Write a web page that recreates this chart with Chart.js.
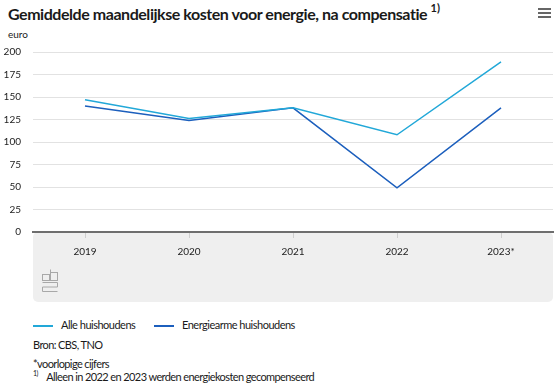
<!DOCTYPE html>
<html>
<head>
<meta charset="utf-8">
<script src="https://cdn.jsdelivr.net/npm/chart.js@4"></script>
<style>
  body { margin: 0; background: #fff; font-family: "Lato", sans-serif; color: #1a1a1a; }
  #wrap { position: relative; width: 559px; height: 389px; overflow: hidden; }
  #title { position: absolute; left: 8px; top: 3px; font-size: 16px; font-weight: 700; letter-spacing: -0.45px; }
  #title sup { font-size: 11px; position: relative; top: -2px; letter-spacing: 0; }
  #menu { position: absolute; left: 538px; top: 8px; width: 13px; }
  #menu div { height: 2px; background: #666; margin-bottom: 2px; }
  #unit { position: absolute; left: 8px; top: 28px; font-size: 10px; }
  #box { position: absolute; left: 0; top: 28px; width: 559px; height: 276px; }
  .leg { position: absolute; top: 318px; font-size: 11px; letter-spacing: -0.5px; }
  .leg span { display: inline-block; width: 20px; height: 2px; vertical-align: middle; margin-right: 8px; }
  .note { position: absolute; left: 33px; font-size: 11px; letter-spacing: -0.6px; }
</style>
</head>
<body>
<div id="wrap">
  <div id="title">Gemiddelde maandelijkse kosten voor energie, na compensatie <sup>1)</sup></div>
  <div id="menu"><div></div><div></div><div></div></div>
  <div id="unit">euro</div>
  <div id="box"><canvas id="chart"></canvas></div>
  <div class="leg" style="left:33px"><span style="background:#22a8d8"></span>Alle huishoudens</div>
  <div class="leg" style="left:154px"><span style="background:#1c5fbd"></span>Energiearme huishoudens</div>
  <div class="note" style="top:338px">Bron: CBS, TNO</div>
  <div class="note" style="top:357px">*voorlopige cijfers</div>
  <div class="note" style="top:369px"><sup style="font-size:7px">1)</sup>&nbsp;&nbsp;&nbsp; Alleen in 2022 en 2023 werden energiekosten gecompenseerd</div>
</div>
<script>
const years = ['2019', '2020', '2021', '2022', '2023*'];
const alleHuishoudens = [147, 126, 138, 108, 189];
const energiearmeHuishoudens = [140, 124, 138, 49, 138];

// grey band under the x axis plus a rough CBS logo
const bandPlugin = {
    id: 'band',
    beforeDraw(chart) {
        const { ctx, chartArea } = chart;
        const top = chartArea.bottom;
        const bottom = chart.height - 2;
        ctx.save();
        ctx.fillStyle = '#efefef';
        ctx.beginPath();
        ctx.roundRect(chartArea.left, top, chartArea.right - chartArea.left, bottom - top, 5);
        ctx.fill();
        // logo
        const x = chartArea.left + 9, y = top + 37;
        ctx.strokeStyle = '#a8a8a8';
        ctx.lineWidth = 1;
        ctx.strokeRect(x + 0.5, y + 5.5, 7, 6);
        ctx.strokeRect(x + 8.5, y + 3.5, 7, 8);
        ctx.beginPath();
        ctx.moveTo(x + 8.5, y + 0.5); ctx.lineTo(x + 8.5, y + 3.5);
        ctx.moveTo(x + 0.5, y + 13.5); ctx.lineTo(x + 15.5, y + 13.5);
        ctx.lineTo(x + 15.5, y + 18); ctx.lineTo(x + 0.5, y + 18);
        ctx.lineTo(x + 0.5, y + 22.5); ctx.lineTo(x + 15.5, y + 22.5);
        ctx.stroke();
        ctx.restore();
    }
};

new Chart(document.getElementById('chart'), {
    type: 'line',
    data: {
        labels: years,
        datasets: [
            {
                label: 'Alle huishoudens',
                data: alleHuishoudens,
                borderColor: '#22a8d8',
                backgroundColor: '#22a8d8',
                borderWidth: 1.5,
                pointRadius: 0,
                tension: 0,
            },
            {
                label: 'Energiearme huishoudens',
                data: energiearmeHuishoudens,
                borderColor: '#1c5fbd',
                backgroundColor: '#1c5fbd',
                borderWidth: 1.5,
                pointRadius: 0,
                tension: 0,
            }
        ]
    },
    options: {
        responsive: true,
        maintainAspectRatio: false,
        animation: false,
        layout: { padding: { top: 24, right: 6, bottom: 0, left: 0 } },
        plugins: {
            legend: { display: false },
            tooltip: { enabled: false },
        },
        scales: {
            x: {
                offset: true,
                grid: {
                    drawOnChartArea: false,
                    offset: false,
                    color: '#cfcfcf',
                    tickLength: 6,
                },
                border: { color: '#6e6e6e', width: 2 },
                ticks: { color: '#222', font: { family: 'Lato', size: 10 }, padding: 8 },
                afterFit: (scale) => { scale.height = 72; },
            },
            y: {
                min: 0,
                max: 200,
                ticks: { stepSize: 25, color: '#222', font: { family: 'Lato', size: 10 }, padding: 12 },
                grid: { color: '#e2e2e2', drawTicks: false },
                border: { display: false },
                afterFit: (scale) => { scale.width = 33; },
            }
        }
    },
    plugins: [bandPlugin],
});
</script>
</body>
</html>
